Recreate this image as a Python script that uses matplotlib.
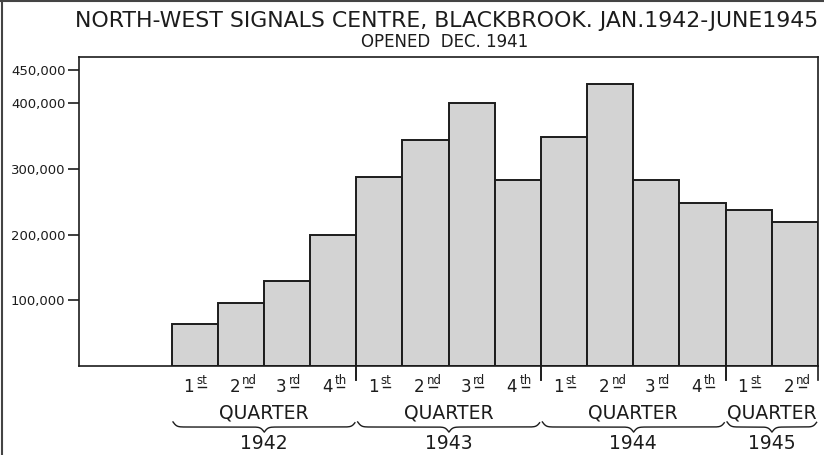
import numpy as np
import matplotlib
matplotlib.use('Agg')
import matplotlib.pyplot as plt
from matplotlib.lines import Line2D

# quarterly traffic, Jan 1942 - June 1945
quarters = ['1st', '2nd', '3rd', '4th',
            '1st', '2nd', '3rd', '4th',
            '1st', '2nd', '3rd', '4th',
            '1st', '2nd']
messages = [64000, 96000, 129000, 199000,
            287000, 344000, 400000, 283000,
            349000, 429000, 283000, 248000,
            237000, 219000]
years          = ['1942', '1943', '1944', '1945']
quarters_count = [4, 4, 4, 2]

ytick_vals   = [100000, 200000, 300000, 400000, 450000]
ytick_labels = ['100,000', '200,000', '300,000', '400,000', '450,000']

title    = 'NORTH-WEST SIGNALS CENTRE, BLACKBROOK. JAN.1942-JUNE1945'
subtitle = 'OPENED  DEC. 1941'

ink      = '#1c1c1c'
bar_fill = '#d3d3d3'


def brace(ax, x0, x1, y_end, y_tip, beta=25.0, n=300):
    xs    = np.linspace(x0, x1, n)
    half  = xs[:n // 2 + 1]
    yb    = (1 / (1 + np.exp(-beta * (half - half[0])))
             + 1 / (1 + np.exp(-beta * (half - half[-1]))))
    yb    = np.concatenate((yb, yb[-2::-1]))[:n] - 0.5
    ys    = y_end - yb * (y_end - y_tip)
    ax.plot(xs, ys, color=ink, lw=1.0, transform=ax.get_xaxis_transform(), clip_on=False)


def main():
    fig = plt.figure(figsize=(8.24, 4.55), dpi=100)
    ax  = fig.add_axes([0.0962, 0.1956, 0.8965, 0.679])

    centers = np.arange(len(messages)) + 0.5
    ax.bar(centers, messages, width=1.0, color=bar_fill, edgecolor=ink, linewidth=1.4)

    ax.set_xlim(-2, len(messages))
    ax.set_ylim(0, 470000)
    ax.set_xticks([])
    ax.set_yticks(ytick_vals)
    ax.set_yticklabels(ytick_labels, fontsize=9.5, color='#333333')
    ax.tick_params(axis='y', direction='out', length=8, width=1.2, pad=2, colors=ink)
    for s in ax.spines.values():
        s.set_linewidth(1.2)
        s.set_color(ink)

    trans = ax.get_xaxis_transform()

    # quarter ordinals under each bar
    for c, q in zip(centers, quarters):
        ax.annotate(q[0], xy=(c, -0.068), xycoords=trans, xytext=(-0.5, 0),
                    textcoords='offset points', ha='right', va='center',
                    fontsize=12, color=ink, annotation_clip=False)
        ax.annotate(q[1:], xy=(c, -0.048), xycoords=trans, xytext=(1.0, 0),
                    textcoords='offset points', ha='left', va='center',
                    fontsize=8.5, color=ink, annotation_clip=False)
        ax.plot([c + 0.08, c + 0.24], [-0.069, -0.069], color=ink, lw=1.0,
                transform=trans, clip_on=False)

    # year groups: separators, QUARTER, braces, years
    start = 0
    for yr, n in zip(years, quarters_count):
        end = start + n
        mid = (start + end) / 2
        if start > 0:
            ax.plot([start, start], [0, -0.045], color=ink, lw=1.2, transform=trans, clip_on=False)
        ax.plot([end, end], [0, -0.045], color=ink, lw=1.2, transform=trans, clip_on=False)
        ax.text(mid, -0.152, 'QUARTER', transform=trans, ha='center', va='center',
                fontsize=13.5, color=ink)
        brace(ax, start + 0.03, end - 0.03, -0.181, -0.214)
        ax.text(mid, -0.250, yr, transform=trans, ha='center', va='center',
                fontsize=13.5, color=ink)
        start = end

    fig.text(0.542, 0.954, title, ha='center', va='center', fontsize=15.8, color=ink)
    fig.text(0.539, 0.908, subtitle, ha='center', va='center', fontsize=12, color=ink)

    # scan edge lines
    fig.add_artist(Line2D([0.003, 0.003], [0, 1], color='#444444', lw=1.5))
    fig.add_artist(Line2D([0, 1], [0.998, 0.998], color='#444444', lw=1.5))

    fig.savefig('out.png', dpi=100, facecolor='white')


if __name__ == '__main__':
    main()
